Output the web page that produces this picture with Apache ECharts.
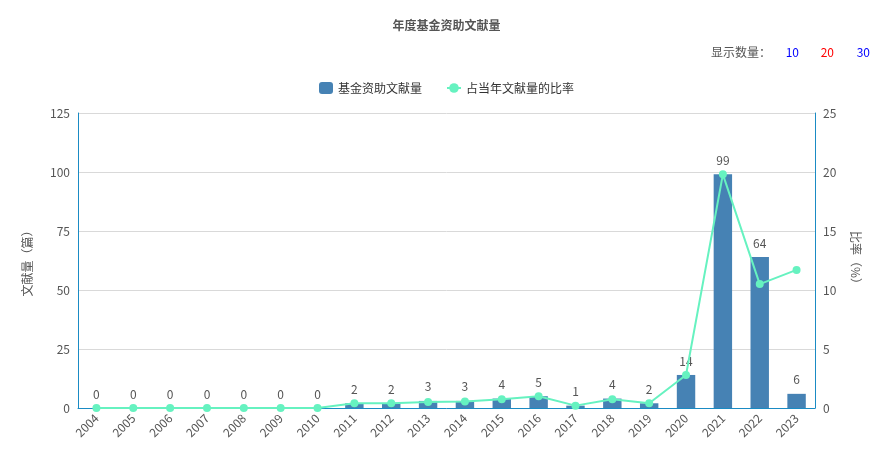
<!DOCTYPE html>
<html><head><meta charset="utf-8">
<script src="https://cdn.jsdelivr.net/npm/echarts@6/dist/echarts.min.js"></script>
<style>html,body{margin:0;padding:0}#c{width:893px;height:460px}</style>
</head><body><div id="c"></div>
<script>
var years = ['2004','2005','2006','2007','2008','2009','2010','2011','2012','2013','2014','2015','2016','2017','2018','2019','2020','2021','2022','2023']
var counts = [0,0,0,0,0,0,0,2,2,3,3,4,5,1,4,2,14,99,64,6]
var ratios = [0,0,0,0,0,0,0,0.4,0.4,0.5,0.55,0.75,1.0,0.2,0.75,0.4,2.8,19.8,10.5,11.7]
var font = '"Microsoft YaHei","Noto Sans CJK SC",sans-serif'
var chart = echarts.init(document.getElementById('c'))
chart.setOption({
    textStyle: {fontFamily: font},
    title: {text: '年度基金资助文献量', left: 'center', top: 14,
        textStyle: {fontSize: 12, fontWeight: 'bold', color: '#555'}},
    graphic: [
        {type: 'text', right: 122, top: 46, style: {text: '显示数量：', fill: '#555', font: '12px ' + font}},
        {type: 'text', right: 94, top: 46, style: {text: '10', fill: '#0000ff', font: '12px ' + font}},
        {type: 'text', right: 59, top: 46, style: {text: '20', fill: '#ff0000', font: '12px ' + font}},
        {type: 'text', right: 23, top: 46, style: {text: '30', fill: '#0000ff', font: '12px ' + font}}
    ],
    legend: {top: 77, itemGap: 24, itemWidth: 14, itemHeight: 12, textStyle: {color: '#333', fontSize: 12}},
    grid: {left: 78, right: 78, top: 113, bottom: 52},
    xAxis: {
        type: 'category', data: years,
        axisLine: {lineStyle: {color: '#1a8bc4'}},
        axisTick: {lineStyle: {color: '#aac'}},
        axisLabel: {rotate: 45, color: '#555', fontSize: 12, interval: 0}
    },
    yAxis: [{
        type: 'value', min: 0, max: 125, interval: 25, name: '文献量（篇）', nameLocation: 'middle', nameGap: 45,
        nameTextStyle: {color: '#555'},
        axisLine: {show: true, lineStyle: {color: '#1a8bc4'}},
        axisLabel: {color: '#555'},
        splitLine: {lineStyle: {color: '#d9d9d9'}}
    }, {
        type: 'value', min: 0, max: 25, interval: 5, name: '比率（%）', nameLocation: 'middle', nameGap: 35, nameRotate: -90,
        nameTextStyle: {color: '#555'},
        axisLine: {show: true, lineStyle: {color: '#1a8bc4'}},
        axisLabel: {color: '#555'},
        splitLine: {show: false}
    }],
    series: [{
        name: '基金资助文献量', type: 'bar', data: counts, barWidth: '50%',
        itemStyle: {color: '#4682b4'},
        label: {show: true, position: 'top', color: '#555', distance: 8}
    }, {
        name: '占当年文献量的比率', type: 'line', yAxisIndex: 1, data: ratios,
        symbol: 'circle', symbolSize: 8,
        lineStyle: {color: '#66f2c0', width: 2},
        itemStyle: {color: '#66f2c0'}
    }]
})
</script></body></html>
